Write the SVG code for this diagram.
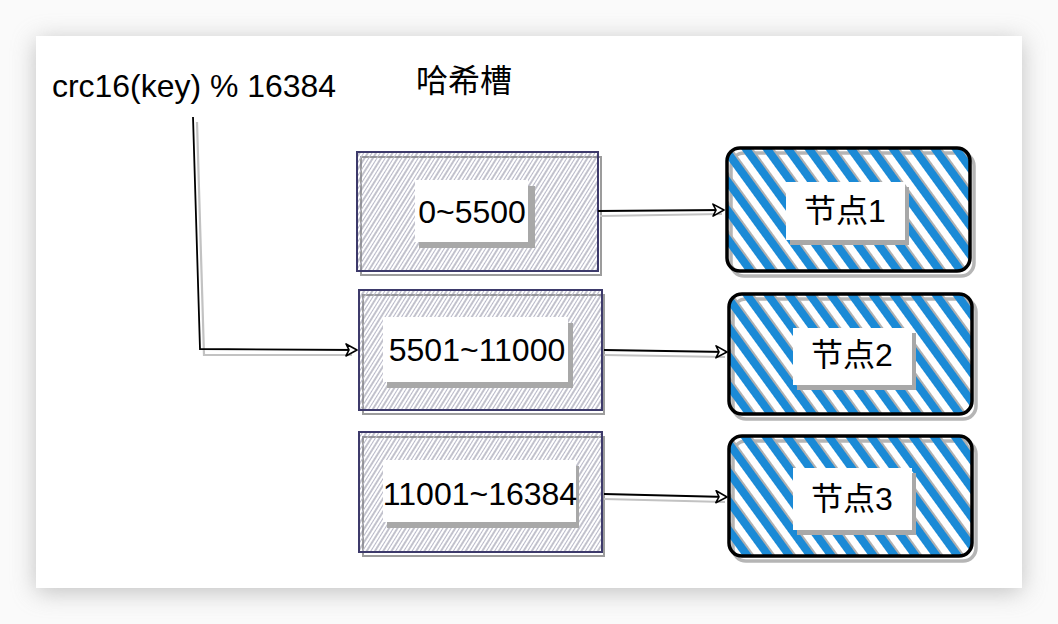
<svg xmlns="http://www.w3.org/2000/svg" width="1058" height="624" viewBox="0 0 1058 624">
<defs>
<filter id="blur" x="-10%" y="-10%" width="120%" height="120%"><feGaussianBlur stdDeviation="12"/></filter>
<pattern id="gh" width="7" height="7" patternUnits="userSpaceOnUse" patternTransform="rotate(32)">
<line x1="1" y1="0" x2="1" y2="7" stroke="#85859a" stroke-width="1"/>
<line x1="4.5" y1="0" x2="4.5" y2="7" stroke="#b8b8c8" stroke-width="1"/>
</pattern>
<pattern id="bh" width="17" height="17" patternUnits="userSpaceOnUse" patternTransform="rotate(-36)">
<line x1="8" y1="0" x2="8" y2="17" stroke="#b0b0b0" stroke-width="8"/>
<line x1="6" y1="0" x2="6" y2="17" stroke="#1b8ad6" stroke-width="8"/>
</pattern>
<marker id="arr" markerWidth="14" markerHeight="14" refX="12" refY="7" orient="auto" markerUnits="userSpaceOnUse">
<path d="M1,1 L12,7 L1,13 L4,7 Z" fill="#fff" stroke="#000" stroke-width="1.6" stroke-linejoin="round"/>
</marker>
<style>
.t{font-family:"Liberation Sans","Noto Sans CJK SC",sans-serif;font-size:32px;fill:#000}
.slot{fill:url(#gh);stroke:#3d3a6b;stroke-width:2}
.slotsh{fill:none;stroke:#9c9c9c;stroke-width:2}
.node{fill:url(#bh);stroke:#000;stroke-width:3.5}
.nodesh{fill:none;stroke:#b5b5b5;stroke-width:3.5}
.lab{fill:#fff}
.labsh{fill:#a8a8a8}
.c{fill:none;stroke:#000;stroke-width:1.8}
.cs{fill:none;stroke:#c2c2c2;stroke-width:2.2}
</style>
</defs>
<rect width="1058" height="624" fill="#fafafa"/>
<rect x="36" y="40" width="986" height="552" fill="#9a9a9a" filter="url(#blur)" opacity="0.6"/>
<rect x="36" y="36" width="986" height="552" fill="#fff"/>

<g id="title-crc"><text class="t" x="52" y="97" textLength="284" lengthAdjust="spacingAndGlyphs">crc16(key) % 16384</text></g>
<g id="title-slot"><text class="t" x="416" y="92">哈希槽</text></g>

<g id="slot1">
<rect class="slotsh" x="361" y="157" width="240" height="118"/>
<rect class="slot" x="357" y="152" width="241" height="119"/>
<rect class="labsh" x="419" y="186" width="116" height="62"/>
<rect class="lab" x="415" y="180" width="113" height="62"/>
<text class="t" x="472" y="223" text-anchor="middle">0~5500</text>
</g>
<g id="slot2">
<rect class="slotsh" x="363" y="295" width="241" height="119"/>
<rect class="slot" x="359" y="290" width="243" height="120"/>
<rect class="labsh" x="387" y="323" width="186" height="65"/>
<rect class="lab" x="383" y="317" width="185" height="65"/>
<text class="t" x="477" y="361" text-anchor="middle">5501~11000</text>
</g>
<g id="slot3">
<rect class="slotsh" x="363" y="437" width="241" height="119"/>
<rect class="slot" x="359" y="432" width="243" height="120"/>
<rect class="labsh" x="387" y="466" width="192" height="62"/>
<rect class="lab" x="383" y="460" width="193" height="62"/>
<text class="t" x="480" y="505" text-anchor="middle">11001~16384</text>
</g>

<g id="node1">
<rect class="nodesh" x="731" y="153" width="243" height="123" rx="13"/>
<rect class="node" x="727" y="148" width="243" height="123" rx="13"/>
<rect class="labsh" x="790" y="187" width="119" height="58"/>
<rect class="lab" x="786" y="182" width="119" height="58"/>
<text class="t" x="845" y="222" text-anchor="middle">节点1</text>
</g>
<g id="node2">
<rect class="nodesh" x="733" y="299" width="243" height="120" rx="13"/>
<rect class="node" x="729" y="294" width="243" height="120" rx="13"/>
<rect class="labsh" x="797" y="333" width="119" height="57"/>
<rect class="lab" x="793" y="328" width="119" height="57"/>
<text class="t" x="852" y="366" text-anchor="middle">节点2</text>
</g>
<g id="node3">
<rect class="nodesh" x="733" y="441" width="243" height="120" rx="13"/>
<rect class="node" x="729" y="436" width="243" height="120" rx="13"/>
<rect class="labsh" x="797" y="473" width="119" height="62"/>
<rect class="lab" x="793" y="468" width="119" height="62"/>
<text class="t" x="852" y="510" text-anchor="middle">节点3</text>
</g>

<g id="connectors">
<path class="cs" d="M197,122 L204,355 L352,355"/>
<path class="c" d="M193,117 L200,349 L357,350" marker-end="url(#arr)"/>
<path class="cs" d="M600,216 L722,214"/>
<path class="c" d="M598,211 L724,210" marker-end="url(#arr)"/>
<path class="cs" d="M604,355 L725,357"/>
<path class="c" d="M604,350 L727,352" marker-end="url(#arr)"/>
<path class="cs" d="M604,499 L725,502"/>
<path class="c" d="M604,494 L727,497" marker-end="url(#arr)"/>
</g>
</svg>
